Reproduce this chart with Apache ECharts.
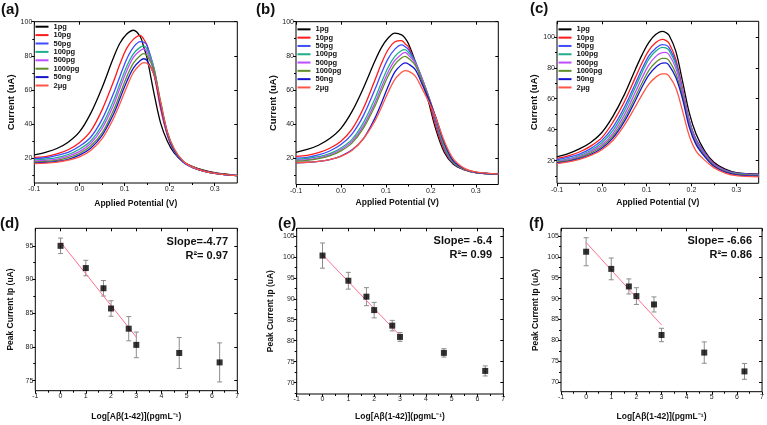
<!DOCTYPE html>
<html><head><meta charset="utf-8">
<script src="https://cdn.jsdelivr.net/npm/echarts@6/dist/echarts.min.js"></script>
<style>html,body{margin:0;padding:0;background:#fff}#c{width:767px;height:425px}</style>
</head><body><div id="c"></div>
<script>
// ---------------- DATA ----------------
const potentials = [-0.1,-0.075,-0.05,-0.025,0,0.025,0.05,0.075,0.09,0.105,0.12,0.135,0.1425,0.15,0.165,0.18,0.195,0.21,0.23,0.25,0.275,0.3,0.35];
const concLabels = ['1pg','10pg','50pg','100pg','500pg','1000pg','50ng','2μg'];
const concColors = ['#000000','#ff1a1a','#3f4cff','#1fae8c','#c04cff','#5e8f2a','#1515d0','#ff5545'];

// panel (a) currents (uA) at each potential, one row per concentration
const curvesA = [
 [22.0,23.5,25.7,29.4,35.4,46.3,61.2,78.6,87.5,92.8,95.0,91.2,85.3,78.6,58.5,40.6,30.0,23.1,17.8,15.2,13.0,11.5,9.8],
 [20.5,21.0,22.5,25.0,29.1,35.9,48.2,64.5,75.3,84.5,89.8,92.0,89.8,86.1,70.2,48.9,33.5,24.3,18.2,15.1,12.7,11.3,9.8],
 [19.8,20.3,21.7,23.4,27.0,32.3,42.6,57.6,68.1,78.2,85.1,88.3,88.1,86.1,72.6,50.8,33.9,24.0,17.7,14.7,12.5,11.2,9.8],
 [19.0,19.5,20.4,22.2,25.3,30.1,39.3,53.4,63.8,73.9,81.3,85.1,85.7,83.8,73.3,51.9,34.6,24.5,18.1,14.8,12.5,11.2,9.8],
 [18.4,18.8,19.5,21.3,23.9,28.6,37.3,50.8,61.2,71.3,79.2,83.1,84.0,82.0,72.3,52.1,34.7,24.9,18.1,14.9,12.5,11.2,9.8],
 [17.8,18.1,18.8,20.3,22.8,27.2,34.7,47.8,57.6,67.8,75.9,80.2,81.3,80.1,71.8,53.3,35.5,25.5,18.3,14.9,12.5,11.2,9.8],
 [17.1,17.5,18.1,19.4,21.8,25.9,33.2,45.5,55.1,65.0,73.0,77.3,78.3,77.2,69.2,51.5,34.5,24.8,18.0,14.7,12.5,11.2,9.8],
 [16.8,17.1,17.7,18.9,20.8,24.6,31.3,43.0,52.1,61.8,70.4,74.9,76.0,75.6,69.3,52.8,35.2,25.4,18.2,14.8,12.5,11.2,9.8]
];
const curvesB = [
 [23.3,25.0,27.5,31.4,37.4,47.5,61.1,76.6,84.8,90.4,93.3,92.3,90.4,87.2,76.9,65.6,52.8,37.7,23.2,16.3,13.0,11.4,10.5],
 [20.9,21.5,23.1,25.7,29.9,37.1,49.2,65.4,75.4,83.7,88.2,88.9,87.1,85.3,75.9,65.6,54.3,39.6,24.6,16.9,13.2,11.5,10.5],
 [19.9,20.4,21.8,24.1,27.9,34.2,44.9,59.9,69.7,78.3,83.9,86.4,85.4,83.7,76.6,66.9,55.7,42.0,25.7,17.0,13.3,11.5,10.5],
 [19.2,19.7,20.8,22.6,25.9,31.1,40.8,54.5,64.3,73.3,79.7,83.1,83.6,82.0,76.4,66.9,56.1,43.4,26.5,17.4,13.4,11.5,10.5],
 [18.6,19.1,20.1,21.9,25.0,29.9,38.9,52.0,61.5,70.5,77.3,81.0,82.0,80.4,75.9,66.6,56.3,44.4,27.6,17.6,13.4,11.5,10.5],
 [18.1,18.6,19.6,21.2,24.2,28.9,37.5,50.1,59.3,68.1,75.0,78.8,79.7,78.6,74.5,65.6,55.6,44.3,27.9,17.6,13.4,11.5,10.5],
 [17.2,17.5,18.0,19.1,21.1,24.8,31.4,43.1,52.2,62.1,70.5,74.8,75.8,75.2,72.0,63.6,54.6,44.6,28.9,18.3,13.7,11.6,10.5],
 [17.2,17.5,18.0,19.1,21.0,24.6,31.3,41.5,49.7,58.6,66.2,70.3,71.3,71.0,68.2,61.0,53.1,44.4,29.8,19.5,13.9,11.8,10.5]
];
const curvesC = [
 [22.5,24.6,27.6,31.8,38.2,48.8,62.5,79.1,88.5,96.4,101.4,103.5,102.8,101.0,90.7,71.4,51.0,37.4,26.1,19.0,14.5,12.3,11.3],
 [21.5,23.1,25.6,29.4,34.9,44.9,57.9,73.8,83.2,91.2,96.1,98.3,97.7,95.8,85.5,66.2,46.2,33.9,25.1,18.0,14.0,12.0,11.0],
 [20.6,22.2,24.2,27.8,33.1,41.7,54.3,69.9,79.4,87.7,92.5,95.0,94.7,93.0,83.7,65.4,46.2,33.8,24.9,17.8,13.8,11.9,11.0],
 [19.9,21.2,23.3,26.6,31.6,39.6,52.0,67.5,77.1,85.6,90.6,93.2,92.9,91.2,82.0,64.1,45.2,32.9,24.1,17.4,13.4,11.6,10.7],
 [19.4,20.7,22.6,25.8,30.3,37.7,49.4,64.3,73.7,81.9,87.2,89.8,89.9,88.4,79.8,64.8,45.0,32.7,24.0,17.3,13.3,11.5,10.6],
 [19.0,20.1,22.0,24.9,29.1,36.1,47.1,61.3,70.3,78.3,83.4,86.0,86.1,84.6,76.4,62.1,43.2,31.5,23.2,16.9,13.0,11.3,10.4],
 [18.5,19.6,21.3,23.9,28.0,34.7,45.2,58.9,67.7,75.4,80.4,83.0,83.1,81.6,73.8,60.0,41.7,30.5,22.4,16.4,12.6,10.9,10.0],
 [18.1,19.2,20.8,23.4,27.1,33.2,42.8,55.0,62.7,69.4,73.8,76.0,76.0,74.6,67.1,52.2,36.1,26.4,20.2,15.5,12.0,10.3,9.5]
];

// calibration panels: log concentration vs peak current
const logConc = [0, 1, 1.7, 2, 2.7, 3, 4.7, 6.3];
const peakD = [95.0, 91.7, 88.7, 85.7, 82.7, 80.3, 79.1, 77.7];
const errD  = [1.15, 1.15, 1.15, 1.15, 1.8, 1.9, 2.3, 2.9];
const peakE = [100.3, 94.3, 90.5, 87.3, 83.6, 80.9, 77.1, 72.8];
const errE  = [3.0, 2.0, 2.15, 1.85, 1.25, 1.05, 1.0, 1.2];
const peakF = [101.2, 97.1, 92.9, 90.6, 88.6, 81.3, 77.1, 72.6];
const errF  = [3.35, 2.6, 1.8, 2.0, 1.8, 1.6, 2.55, 1.9];
const fitX = [0, 3];
const fitD = [95.55, 81.45];
const fitE = [100.5, 81.25];
const fitF = [103.4, 83.7];
const slopeTexts = ['Slope=-4.77', 'Slope= -6.4', 'Slope= -6.66'];
const r2Texts = ['R²= 0.97', 'R²= 0.99', 'R²= 0.86'];

// tick values
const potMajor = [-0.1, 0, 0.1, 0.2, 0.3];
const potMinor = [-0.05, 0.05, 0.15, 0.25];
const curMajor = [20, 40, 60, 80, 100];
const curMinor = [10, 30, 50, 70, 90];
const logMajor = [-1, 0, 1, 2, 3, 4, 5, 6, 7];
const logMinor = [-0.5, 0.5, 1.5, 2.5, 3.5, 4.5, 5.5, 6.5];
const ipMajorD = [75, 80, 85, 90, 95];
const ipMinorD = [77.5, 82.5, 87.5, 92.5];
const ipMajorEF = [70, 75, 80, 85, 90, 95, 100, 105];
const ipMinorE = [67.5, 72.5, 77.5, 82.5, 87.5, 92.5, 97.5, 102.5];
const ipMinorF = [72.5, 77.5, 82.5, 87.5, 92.5, 97.5, 102.5];

// ---------------- LAYOUT ----------------
const FF = '"Liberation Sans", Arial, sans-serif';
const grids = [
  {left:34.3, top:21.7, width:203, height:161.3},
  {left:296, top:21.7, width:202.3, height:162.8},
  {left:557, top:21.3, width:201.7, height:162},
  {left:35.3, top:228.3, width:202, height:162.4},
  {left:296.7, top:228.3, width:206.6, height:165.7},
  {left:561, top:228.3, width:202, height:163.4}
].map(g => Object.assign({show:true, borderColor:'#000', borderWidth:1, backgroundColor:'transparent'}, g));

const xAxes = [], yAxes = [];
function addAxes(list, dim, gi, min, max, major, minor, fmt, name, nameGap, nameSize, labelMargin) {
  const pos = dim === 'x' ? 'bottom' : 'left';
  const opp = dim === 'x' ? 'top' : 'right';
  const base = {type:'value', gridIndex:gi, min:min, max:max, splitLine:{show:false},
                axisLine:{show:false, onZero:false}};
  list.push(Object.assign({}, base, {
    position:pos,
    axisTick:{show:true, inside:false, length:3, customValues:major, lineStyle:{color:'#000', width:1}},
    axisLabel:{show:true, customValues:major, formatter:fmt, fontSize:7, color:'#222', margin:labelMargin, fontFamily:FF},
    name:name, nameLocation:'middle', nameGap:nameGap,
    nameTextStyle:{fontWeight:'bold', fontSize:nameSize, color:'#111', fontFamily:FF}
  }));
  list.push(Object.assign({}, base, {
    position:pos,
    axisTick:{show:true, inside:false, length:2, customValues:minor, lineStyle:{color:'#000', width:1}},
    axisLabel:{show:false}
  }));
  list.push(Object.assign({}, base, {
    position:opp,
    axisTick:{show:true, inside:true, length:3, customValues:major, lineStyle:{color:'#000', width:1}},
    axisLabel:{show:false}
  }));
}
const f1 = v => Number(v).toFixed(1);
const f0 = v => String(Math.round(v));
const fy = v => String(Math.round(v));

addAxes(xAxes,'x',0,-0.1,0.35,potMajor,potMinor,f1,'Applied Potential (V)',16,8.5,3);
addAxes(yAxes,'y',0,5.5,100,curMajor,curMinor,fy,'Current (uA)',17,9.5,2);
addAxes(xAxes,'x',1,-0.1,0.35,potMajor,potMinor,f1,'Applied Potential (V)',13.5,8.5,3);
addAxes(yAxes,'y',1,4.45,100,curMajor,curMinor,fy,'Current (uA)',16.7,9.5,2);
addAxes(xAxes,'x',2,-0.1,0.35,potMajor,potMinor,f1,'Applied Potential (V)',14.7,8.5,3);
addAxes(yAxes,'y',2,5.4,110,curMajor,curMinor,fy,'Current (uA)',17.7,9.5,2);
addAxes(xAxes,'x',3,-1,7,logMajor,logMinor,f0,'Log[Aβ(1-42)](pgmL⁻¹)',21,8.5,2);
addAxes(yAxes,'y',3,73.5,97.6,ipMajorD,ipMinorD,fy,'Peak Current Ip (uA)',20.5,8.5,2);
addAxes(xAxes,'x',4,-1,7,logMajor,logMinor,f0,'Log[Aβ(1-42)](pgmL⁻¹)',18.5,8.5,2);
addAxes(yAxes,'y',4,67.3,106.8,ipMajorEF,ipMinorE,fy,'Peak Current Ip (uA)',21.9,8.5,2);
addAxes(xAxes,'x',5,-1,7,logMajor,logMinor,f0,'Log[Aβ(1-42)](pgmL⁻¹)',20.8,8.5,2);
addAxes(yAxes,'y',5,67.75,106.8,ipMajorEF,ipMinorF,fy,'Peak Current Ip (uA)',21.2,8.5,2);

const series = [];
[curvesA, curvesB, curvesC].forEach((curves, gi) => {
  curves.forEach((vals, k) => {
    series.push({
      type:'line', name:concLabels[k], xAxisIndex:gi*3, yAxisIndex:gi*3,
      data: potentials.map((p, i) => [p, vals[i]]),
      smooth:0.35, showSymbol:false, color:concColors[k],
      lineStyle:{width:1.3, color:concColors[k]}, z:3, silent:true
    });
  });
});

function errorBarSeries(gi, ys, es) {
  return {
    type:'custom', xAxisIndex:gi*3, yAxisIndex:gi*3, z:2, silent:true,
    data: logConc.map((x, i) => [x, ys[i], es[i]]),
    encode:{x:0, y:1},
    renderItem: (params, api) => {
      const x = api.value(0), y = api.value(1), e = api.value(2);
      const t = api.coord([x, y + e]), b = api.coord([x, y - e]);
      const w = 2.5, st = {stroke:'#8c8c8c', lineWidth:1};
      return {type:'group', children:[
        {type:'line', shape:{x1:t[0], y1:t[1], x2:b[0], y2:b[1]}, style:st},
        {type:'line', shape:{x1:t[0]-w, y1:t[1], x2:t[0]+w, y2:t[1]}, style:st},
        {type:'line', shape:{x1:b[0]-w, y1:b[1], x2:b[0]+w, y2:b[1]}, style:st}
      ]};
    }
  };
}
[[peakD, errD, fitD], [peakE, errE, fitE], [peakF, errF, fitF]].forEach((set, j) => {
  const gi = j + 3;
  series.push(errorBarSeries(gi, set[0], set[1]));
  series.push({type:'line', xAxisIndex:gi*3, yAxisIndex:gi*3, z:3, silent:true,
    data: fitX.map((x, i) => [x, set[2][i]]), showSymbol:false,
    lineStyle:{color:'#ff6f92', width:1}});
  series.push({type:'scatter', xAxisIndex:gi*3, yAxisIndex:gi*3, z:4, silent:true,
    data: logConc.map((x, i) => [x, set[0][i]]), symbol:'rect', symbolSize:6,
    itemStyle:{color:'#000'}});
});

const legendBase = {data:concLabels, orient:'vertical', itemWidth:13, itemHeight:2, itemGap:0,
  icon:'rect', padding:0, selectedMode:false,
  textStyle:{fontSize:7.5, fontWeight:'bold', color:'#111', lineHeight:8.4, fontFamily:FF}};
const legends = [
  Object.assign({}, legendBase, {left:35.5, top:22.5}),
  Object.assign({}, legendBase, {left:297.5, top:25.2, textStyle:Object.assign({}, legendBase.textStyle, {lineHeight:8.3})}),
  Object.assign({}, legendBase, {left:558.5, top:25.2, textStyle:Object.assign({}, legendBase.textStyle, {lineHeight:8.3})})
];

function txt(text, x, y, size, align) {
  return {type:'text', x:x, y:y, silent:true, style:{text:text, fontSize:size, fontWeight:'bold',
    fontFamily:FF, fill:'#111', align:align || 'left', verticalAlign:'middle'}};
}
const graphic = [
  txt('(a)', 1, 10, 15), txt('(b)', 256, 10, 15), txt('(c)', 530, 9, 15),
  txt('(d)', 0, 224, 15), txt('(e)', 278, 224, 15), txt('(f)', 529, 224, 15),
  txt(slopeTexts[0], 228, 241.5, 11, 'right'), txt(r2Texts[0], 228, 256, 11, 'right'),
  txt(slopeTexts[1], 492, 240.5, 11, 'right'), txt(r2Texts[1], 492, 255, 11, 'right'),
  txt(slopeTexts[2], 752, 240.5, 11, 'right'), txt(r2Texts[2], 752, 255, 11, 'right')
];

const chart = echarts.init(document.getElementById('c'), null, {renderer:'canvas'});
chart.setOption({
  animation:false, backgroundColor:'#fff',
  textStyle:{fontFamily:FF},
  grid:grids, xAxis:xAxes, yAxis:yAxes, legend:legends, series:series, graphic:graphic
});
</script></body></html>
